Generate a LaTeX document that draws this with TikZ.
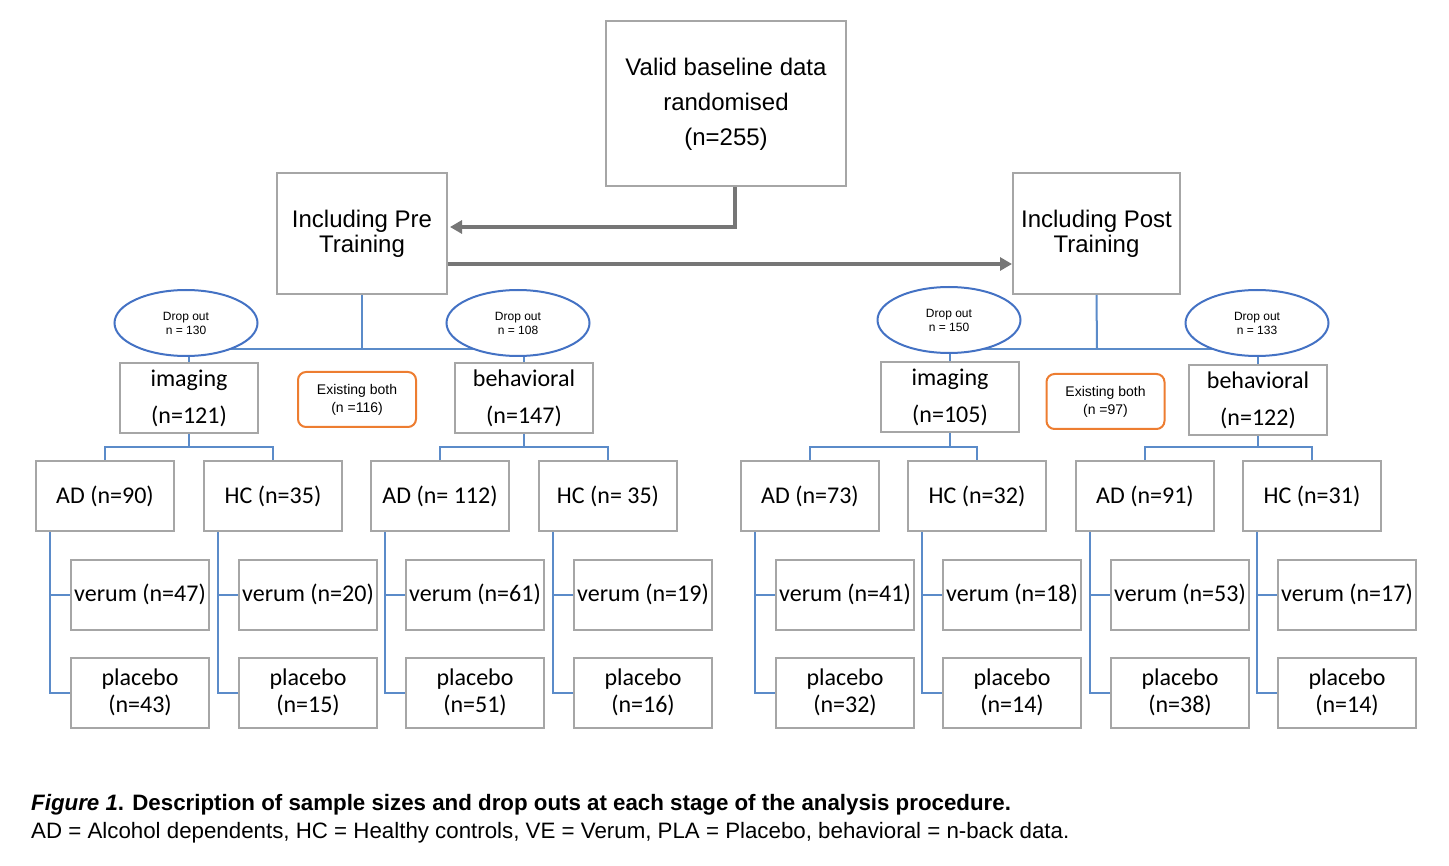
\documentclass[tikz,border=0pt]{standalone}
\usepackage{fontspec}
\setmainfont{Liberation Sans}
\newfontfamily\calibri{Carlito}
\usetikzlibrary{arrows.meta,shapes.geometric}
\definecolor{boxgray}{HTML}{A6A6A6}
\definecolor{linkblue}{HTML}{5B8BC9}
\definecolor{dropblue}{HTML}{4472C4}
\definecolor{flowgray}{HTML}{767676}
\definecolor{bothorange}{HTML}{ED7D31}
\begin{document}
\begin{tikzpicture}[x=1pt,y=-1pt,
    box/.style={draw=boxgray,line width=2pt,fill=white,inner sep=0pt,align=center},
    mid/.style={box,minimum width=138pt,minimum height=70pt,font=\calibri\fontsize{24}{37}\selectfont},
    leaf/.style={box,minimum width=138pt,minimum height=70pt,font=\calibri\fontsize{24}{27}\selectfont},
    drop/.style={ellipse,draw=dropblue,line width=2pt,fill=white,minimum width=143pt,minimum height=66pt,inner sep=0pt,align=center,font=\fontsize{12}{14}\selectfont},
    both/.style={draw=bothorange,line width=2pt,rounded corners=8pt,minimum width=118pt,minimum height=55pt,inner sep=0pt,align=center,font=\fontsize{14}{18}\selectfont},
    link/.style={draw=linkblue,line width=2pt},
    flow/.style={draw=flowgray,line width=4pt,-{Triangle[length=12pt,width=13pt]}}]
    \useasboundingbox (0,0) rectangle (1449,866); % page size

    % top of the tree
    \node[box,minimum width=240pt,minimum height=165pt,font=\fontsize{24}{35}\selectfont] (base) at (726,104) {Valid baseline data\\randomised\\(n=255)};
    \node[box,minimum width=170pt,minimum height=121pt,font=\fontsize{24}{25}\selectfont] (pre) at (362,233.5) {Including Pre\\Training};
    \node[box,minimum width=167pt,minimum height=121pt,font=\fontsize{24}{25}\selectfont] (post) at (1096.5,233.5) {Including Post\\Training};
    \draw[flow,shorten >=2pt] ([xshift=9pt]base.south) |- ([yshift=6.5pt]pre.east);
    \draw[flow] ([yshift=-30.5pt]pre.east) -- ([yshift=-30.5pt]post.west);

    % imaging / behavioral
    \node[mid] (preImg) at (189,398) {imaging\\(n=121)};
    \node[mid] (preBeh) at (524,398) {behavioral\\(n=147)};
    \node[mid] (postImg) at (950,397.5) {imaging\\(n=105)};
    \node[mid] (postBeh) at (1258,400.5) {behavioral\\(n=122)};
    \node[both] (preBoth) at (357,399.5) {Existing both\\(n =116)};
    \node[both] (postBoth) at (1105.5,401.5) {Existing both\\(n =97)};

    \coordinate (preJ) at (362,349);
    \coordinate (postJ) at (1097,349);
    \draw[link] (pre.south) -- (preJ);
    \draw[link] (preImg.north) |- (preJ) -| (preBeh.north);
    \draw[link] (post.south) -- (postJ);
    \draw[link] (postImg.north) |- (postJ) -| (postBeh.north);

    % drop outs sit on the lines
    \node[drop] (preDropImg) at (186,323) {Drop out\\n = 130};
    \node[drop] (preDropBeh) at (518,323) {Drop out\\n = 108};
    \node[drop] (postDropImg) at (949,320) {Drop out\\n = 150};
    \node[drop] (postDropBeh) at (1257,323) {Drop out\\n = 133};

    % groups
    \foreach \g/\x/\grp/\ve/\pl in {1/105/AD (n=90)/47/43, 2/273/HC (n=35)/20/15,
        3/440/AD (n= 112)/61/51, 4/608/HC (n= 35)/19/16, 5/810/AD (n=73)/41/32,
        6/977/HC (n=32)/18/14, 7/1145/AD (n=91)/53/38, 8/1312/HC (n=31)/17/14} {
        \node[leaf] (grp\g) at (\x,496) {\grp};
        \node[leaf] (ve\g) at (\x+35,594.5) {verum (n=\ve)};
        \node[leaf] (pl\g) at (\x+35,692.5) {placebo\\(n=\pl)};
        \draw[link] ([xshift=15pt]grp\g.south west) |- (ve\g.west);
        \draw[link] ([xshift=15pt]grp\g.south west) |- (pl\g.west);
    }

    \coordinate (preImgJ) at (189,447);
    \coordinate (preBehJ) at (524,447);
    \coordinate (postImgJ) at (950,447);
    \coordinate (postBehJ) at (1258,447);
    \draw[link] (preImg.south) -- (preImgJ);
    \draw[link] (grp1.north) |- (preImgJ) -| (grp2.north);
    \draw[link] (preBeh.south) -- (preBehJ);
    \draw[link] (grp3.north) |- (preBehJ) -| (grp4.north);
    \draw[link] (postImg.south) -- (postImgJ);
    \draw[link] (grp5.north) |- (postImgJ) -| (grp6.north);
    \draw[link] (postBeh.south) -- (postBehJ);
    \draw[link] (grp7.north) |- (postBehJ) -| (grp8.north);

    % caption
    \node[anchor=base west,inner sep=0pt,font=\fontsize{22.3}{26}\selectfont\bfseries] (caption) at (31,810) {\textit{Figure 1}. Description of sample sizes and drop outs at each stage of the analysis procedure.};
    \node[anchor=base west,inner sep=0pt,font=\fontsize{22.3}{26}\selectfont] (legend) at (31,838) {AD = Alcohol dependents, HC = Healthy controls, VE = Verum, PLA = Placebo, behavioral = n-back data.};
\end{tikzpicture}
\end{document}
